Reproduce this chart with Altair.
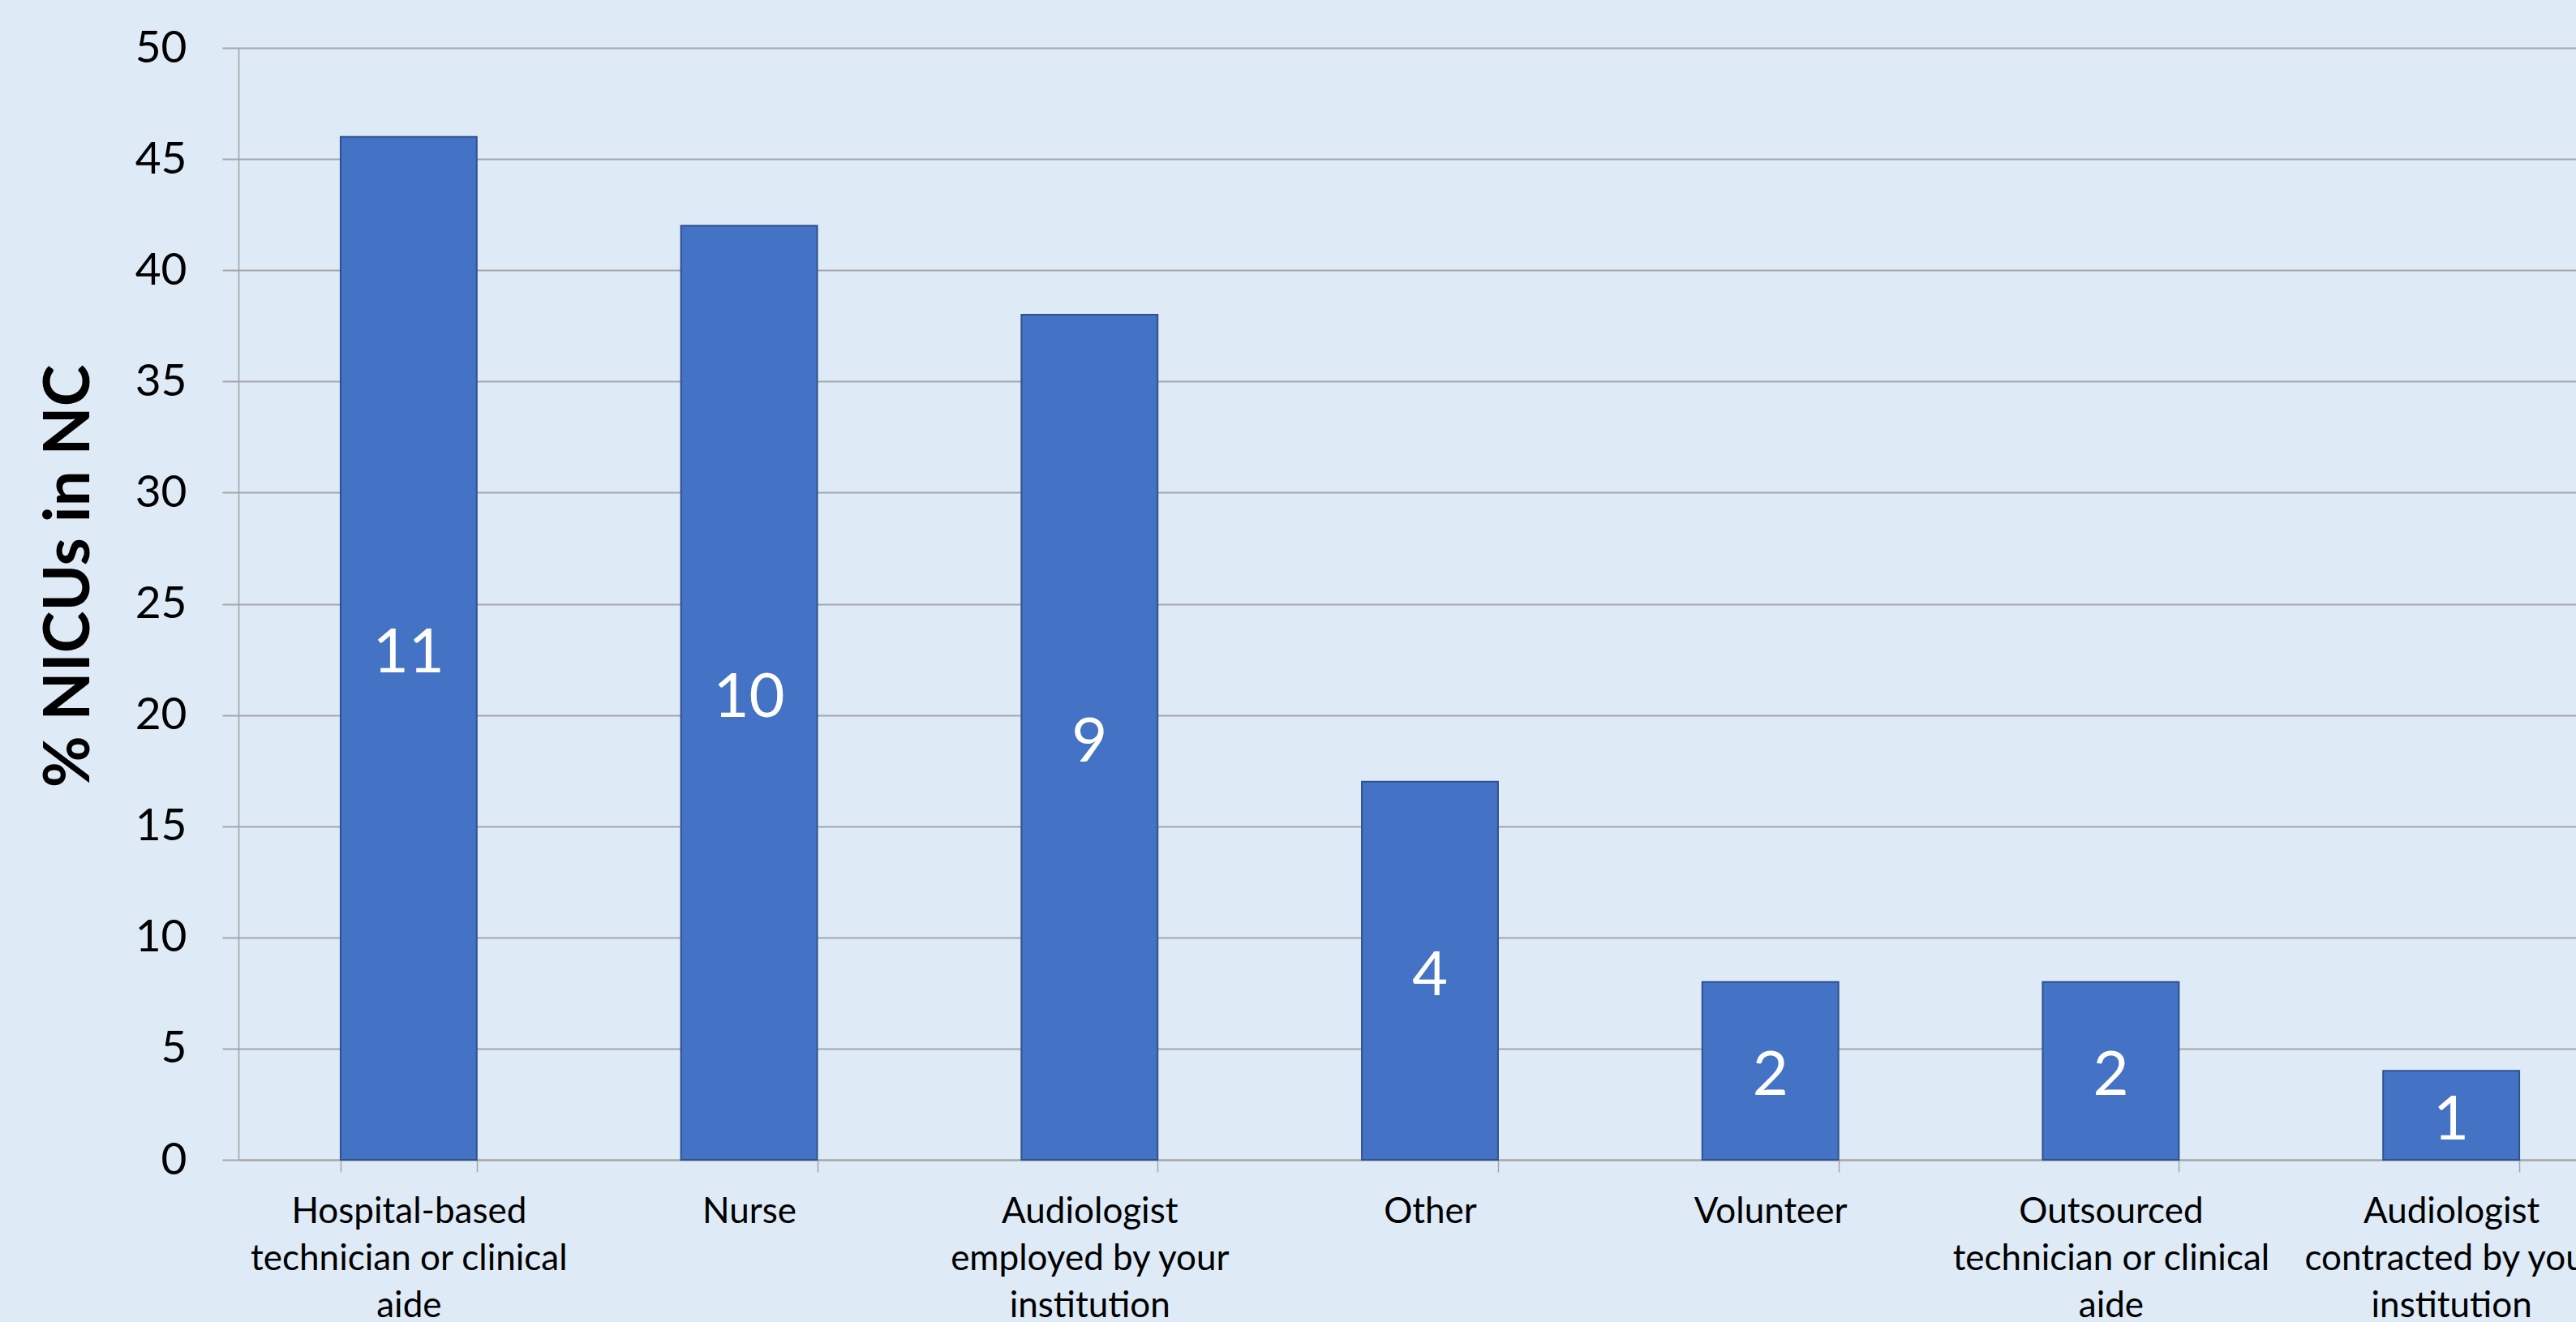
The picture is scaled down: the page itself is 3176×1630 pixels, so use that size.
import altair as alt
import pandas as pd

# --- data ---
categories = [
    "Hospital-based\ntechnician or clinical\naide",
    "Nurse",
    "Audiologist\nemployed by your\ninstitution",
    "Other",
    "Volunteer",
    "Outsourced\ntechnician or clinical\naide",
    "Audiologist\ncontracted by your\ninstitution",
]
percent_nicus = [46, 42, 38, 17, 8, 8, 4]
nicu_counts = [11, 10, 9, 4, 2, 2, 1]
y_ticks = [0, 5, 10, 15, 20, 25, 30, 35, 40, 45, 50]
y_title = "% NICUs in NC"

df = pd.DataFrame({"role": categories, "pct": percent_nicus, "n": nicu_counts})

FONT = "Lato"
BG = "#DEEAF6"
GRID = "#A6A6A6"

x_enc = alt.X(
    "role:N",
    sort=categories,
    scale=alt.Scale(domain=categories, range=[0, 2938], paddingInner=0.6, paddingOuter=0.3),
    axis=alt.Axis(
        title=None,
        labelAngle=0,
        labelExpr="split(datum.label, '\\n')",
        labelFont=FONT,
        labelFontSize=44,
        labelColor="#000000",
        labelLineHeight=58,
        labelBaseline="alphabetic",
        labelPadding=62,
        labelLimit=600,
        labelOverlap=False,
        labelFlush=False,
        tickSize=15,
        tickBand="extent",
        tickColor=GRID,
        tickWidth=1.5,
        domainColor=GRID,
        domainWidth=2,
        grid=False,
    ),
)

y_enc = alt.Y(
    "pct:Q",
    scale=alt.Scale(domain=[0, 50], nice=False),
    axis=alt.Axis(
        values=y_ticks,
        title=y_title,
        titleFont=FONT,
        titleFontSize=78,
        titleFontWeight="bold",
        titleColor="#000000",
        titleAngle=270,
        titleX=-208,
        titleY=651,
        titleAlign="center",
        titleBaseline="middle",
        labelFont=FONT,
        labelFontSize=55,
        labelColor="#000000",
        labelPadding=44,
        tickSize=20,
        tickColor=GRID,
        tickWidth=2,
        gridColor=GRID,
        gridWidth=2,
        domainColor="#A0A0A0",
        domainWidth=1.5,
    ),
)

bars = alt.Chart(df).mark_bar(
    color="#4472C4", stroke="#2F528F", strokeWidth=2
).encode(x=x_enc, y=y_enc)

labels = alt.Chart(df).transform_calculate(
    mid="datum.pct / 2"
).mark_text(
    color="white", font=FONT, fontSize=76, baseline="middle", align="center", dy=7
).encode(
    x=alt.X("role:N", sort=categories),
    y=alt.Y("mid:Q"),
    text=alt.Text("n:Q"),
)

chart = alt.layer(bars, labels).properties(
    width=2882,
    height=1371,
    autosize=alt.AutoSizeParams(type="none"),
    padding={"left": 294, "top": 59, "right": 0, "bottom": 200},
).configure(
    background=BG,
).configure_view(
    stroke=None,
    fill=BG,
)

chart.save("out.html", embed_options={"renderer": "svg", "actions": False})
